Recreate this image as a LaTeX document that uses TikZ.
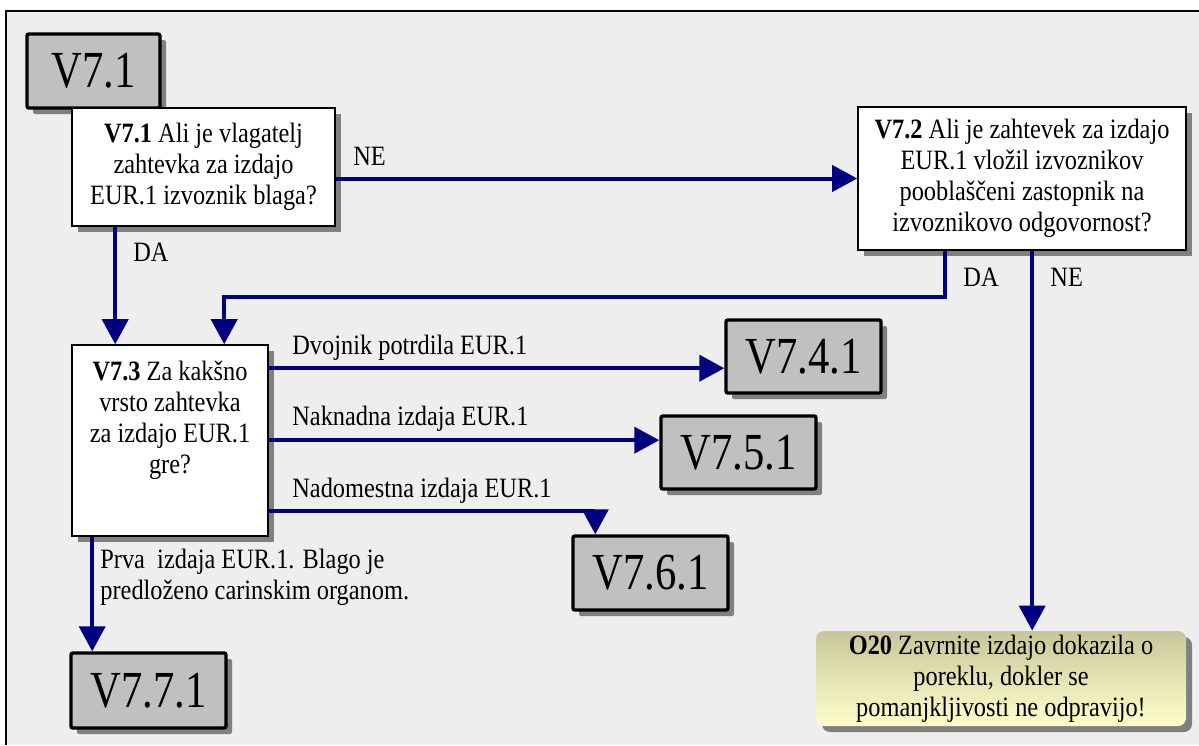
\documentclass[tikz,border=0pt]{standalone}
\usepackage{fontspec}
\setmainfont{Liberation Serif}[FakeStretch=0.87]
\newfontfamily\bigfont{Liberation Serif}[FakeStretch=0.82]
\usetikzlibrary{arrows.meta,calc,shadows}
\definecolor{flow}{HTML}{000080}
\definecolor{panel}{HTML}{EEEEEE}
\definecolor{refgray}{HTML}{C0C0C0}
\definecolor{shadowgray}{HTML}{808080}
\definecolor{notetop}{HTML}{C6C69A}
\definecolor{notebot}{HTML}{FFFFCC}

\tikzset{
  boxshadow/.style={general shadow={fill=shadowgray, shadow xshift=3pt, shadow yshift=-3pt}},
  bodyfont/.style={font=\fontsize{14}{15.5}\selectfont},
  refbox/.style={draw=black, line width=1.7pt, fill=refgray, boxshadow,
    rounded corners=1pt, minimum width=77.5pt, minimum height=36.5pt,
    inner sep=0pt, font=\bigfont\fontsize{26}{28}\selectfont},
  askbox/.style={draw=black, line width=0.8pt, fill=white, boxshadow,
    inner sep=0pt, align=center, bodyfont},
  notebox/.style={rounded corners=4pt, top color=notetop, bottom color=notebot,
    boxshadow, inner sep=0pt, align=center, bodyfont},
  flowline/.style={draw=flow, line width=2pt},
  flowarrow/.style={flowline, -{Triangle[length=12.5pt,width=13pt]}},
  lbl/.style={inner sep=0pt, bodyfont},
}

\begin{document}
\begin{tikzpicture}[x=0.5pt,y=-0.5pt]
\useasboundingbox (0,0) rectangle (1199,745);
% panel
\fill[panel] (6,11) rectangle (1199,745);
\draw[line width=0.6pt] (6,745) -- (6,11) -- (1199,11);

% reference and question boxes
\node[refbox, minimum width=66.5pt, minimum height=37pt] (r71) at (93.5,71) {V7.1};
\node[askbox, minimum width=131.5pt, minimum height=59pt] (q71) at (203.5,167)
  {\textbf{V7.1} Ali je vlagatelj\\zahtevka za izdajo\\EUR.1 izvoznik blaga?};
\node[askbox, minimum width=164pt, minimum height=71.5pt] (q72) at (1022,178.5)
  {\textbf{V7.2} Ali je zahtevek za izdajo\\EUR.1 vložil izvoznikov\\pooblaščeni zastopnik na\\izvoznikovo odgovornost?};
\node[askbox, minimum width=98pt, minimum height=95.5pt] (q73) at (170,440.5) {};
\node[lbl, align=center] (q73t) at (170,420)
  {\textbf{V7.3} Za kakšno\\vrsto zahtevka\\za izdajo EUR.1\\gre?};

\node[refbox] (r741) at (803.5,356.5) {V7.4.1};
\node[refbox] (r751) at (738.5,452.5) {V7.5.1};
\node[refbox, minimum height=37pt] (r761) at (650.5,573) {V7.6.1};
\node[refbox, minimum height=37.5pt] (r771) at (148.5,690.5) {V7.7.1};

\node[notebox, minimum width=185pt, minimum height=47.5pt] (o20) at (1001,678.5)
  {\textbf{O20} Zavrnite izdajo dokazila o\\poreklu, dokler se\\pomanjkljivosti ne odpravijo!};

% connectors
\draw[flowarrow] (q71.east |- q72.west) -- (q72.west);
\draw[flowarrow] ($(q71.south west)+(44,0)$) -- ($(q73.north west)+(44,0)$);
\draw[flowarrow] ($(q72.south west)+(88,0)$) |- ($(q73.north west)+(153,-47)$)
  -- ($(q73.north west)+(153,0)$);
\coordinate (neA) at ($(q72.south west)+(175,0)$);
\draw[flowarrow] (neA) -- (neA |- o20.north);

\coordinate (d1) at ($(q73.north east)+(0,24)$);
\coordinate (d2) at ($(q73.north east)+(0,96)$);
\coordinate (d3) at ($(q73.north east)+(0,167)$);
\draw[flowarrow] (d1) -- (d1 -| r741.west);
\draw[flowarrow] (d2) -- (d2 -| r751.west);
\draw[flowarrow] (d3) -| ($(r761.north west)+(24,0)$);
\coordinate (p1) at ($(q73.south west)+(21,0)$);
\draw[flowarrow] (p1) -- (p1 |- r771.north);

% connector labels
\node[lbl, anchor=west] (lne1) at (353,156) {NE};
\node[lbl, anchor=west] (lda1) at (133,252) {DA};
\node[lbl, anchor=west] (lda2) at (963,277) {DA};
\node[lbl, anchor=west] (lne2) at (1050,277) {NE};
\node[lbl, anchor=base west] (ld1) at (292,354) {Dvojnik potrdila EUR.1};
\node[lbl, anchor=base west] (ld2) at (292,425) {Naknadna izdaja EUR.1};
\node[lbl, anchor=base west] (ld3) at (292,497) {Nadomestna izdaja EUR.1};
\node[lbl, anchor=west, align=left] (lp1) at (100,577)
  {Prva\ \ izdaja EUR.1. Blago je\\predloženo carinskim organom.};
\end{tikzpicture}
\end{document}
